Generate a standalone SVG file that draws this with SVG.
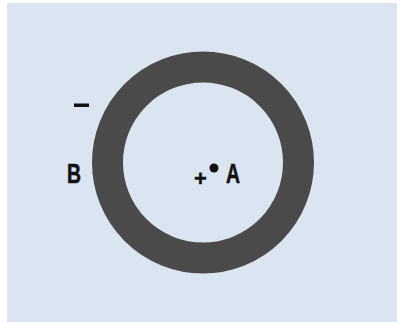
<svg xmlns="http://www.w3.org/2000/svg" width="400" height="322" viewBox="0 0 400 322">
<style>
.lbl{font-family:"Liberation Sans",Arial,sans-serif;font-weight:bold;fill:#111;}
</style>
<rect width="400" height="322" fill="#ffffff"/>
<rect x="7" y="3" width="390" height="319" fill="#dae5f1"/>
<g id="ring">
<circle cx="203" cy="162.5" r="95.5" fill="none" stroke="#4a4a4a" stroke-width="31"/>
</g>
<g id="B">
<text class="lbl" x="67" y="183" font-size="27" textLength="14" lengthAdjust="spacingAndGlyphs" stroke="#111" stroke-width="0.6">B</text>
</g>
<g id="minus">
<rect x="74" y="103.5" width="15" height="3.5" fill="#111"/>
</g>
<g id="A">
<circle cx="214" cy="168" r="4.5" fill="#111"/>
<text class="lbl" x="194" y="186" font-size="22" stroke="#111" stroke-width="0.4">+</text>
<text class="lbl" x="226" y="183" font-size="27" textLength="14" lengthAdjust="spacingAndGlyphs" stroke="#111" stroke-width="0.6">A</text>
</g>
</svg>
